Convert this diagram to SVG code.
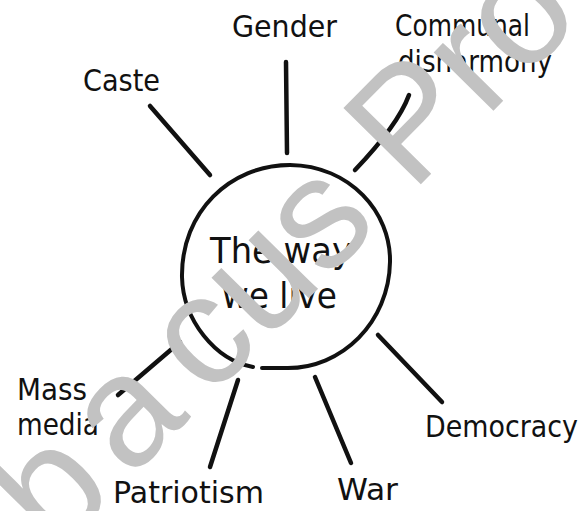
<svg xmlns="http://www.w3.org/2000/svg" width="584" height="511" viewBox="0 0 584 511">
<style>
.lbl{font-family:"DejaVu Sans","Liberation Sans",sans-serif;font-size:31px;fill:#111}
.ctr{font-family:"DejaVu Sans","Liberation Sans",sans-serif;font-size:35px;fill:#111}
.con{stroke:#111;stroke-width:4.5;stroke-linecap:round;fill:none}
.ring{stroke:#111;stroke-width:4;stroke-linecap:round;fill:none}
.wm{font-family:"Liberation Sans",Arial,sans-serif;font-size:158px;fill:#c2c2c2}
</style>
<rect width="584" height="511" fill="#fff"/>
<g id="connectors">
<path class="con" d="M286,62 L287,153"/>
<path class="con" d="M150,106 L210,175"/>
<path class="con" d="M409,95 Q398,125 355,170"/>
<path class="con" d="M118,395 L180,342"/>
<path class="con" d="M238,380 L210,467"/>
<path class="con" d="M315,377 L351,463"/>
<path class="con" d="M378,335 L442,402"/>
</g>
<g id="center">
<path class="ring" d="M253,367 C215,360 183,320 182,277 C181,212 230,165 290,165 C350,166 391,212 390,262 C389,322 342,369 286,368 L262,368"/>
<text class="ctr" x="210" y="263" textLength="142" lengthAdjust="spacingAndGlyphs">The way</text>
<text class="ctr" x="222" y="308" textLength="115" lengthAdjust="spacingAndGlyphs">we live</text>
</g>
<g id="gender"><text class="lbl" x="232" y="37" textLength="105" lengthAdjust="spacingAndGlyphs">Gender</text></g>
<g id="caste"><text class="lbl" x="83" y="91" textLength="77" lengthAdjust="spacingAndGlyphs">Caste</text></g>
<g id="communal"><text class="lbl" x="395" y="36" textLength="135" lengthAdjust="spacingAndGlyphs">Communal</text><text class="lbl" x="398" y="72" textLength="154" lengthAdjust="spacingAndGlyphs">disharmony</text></g>
<g id="massmedia"><text class="lbl" x="17" y="400" textLength="70" lengthAdjust="spacingAndGlyphs">Mass</text><text class="lbl" x="17" y="435" textLength="82" lengthAdjust="spacingAndGlyphs">media</text></g>
<g id="patriotism"><text class="lbl" x="113" y="503" textLength="151" lengthAdjust="spacingAndGlyphs">Patriotism</text></g>
<g id="war"><text class="lbl" x="337" y="500" textLength="61" lengthAdjust="spacingAndGlyphs">War</text></g>
<g id="democracy"><text class="lbl" x="425" y="437" textLength="153" lengthAdjust="spacingAndGlyphs">Democracy</text></g>
<text class="wm" transform="translate(-18.5,630) rotate(-45.4)" dx="0 0 18 24">Abacus Pro</text>
</svg>
